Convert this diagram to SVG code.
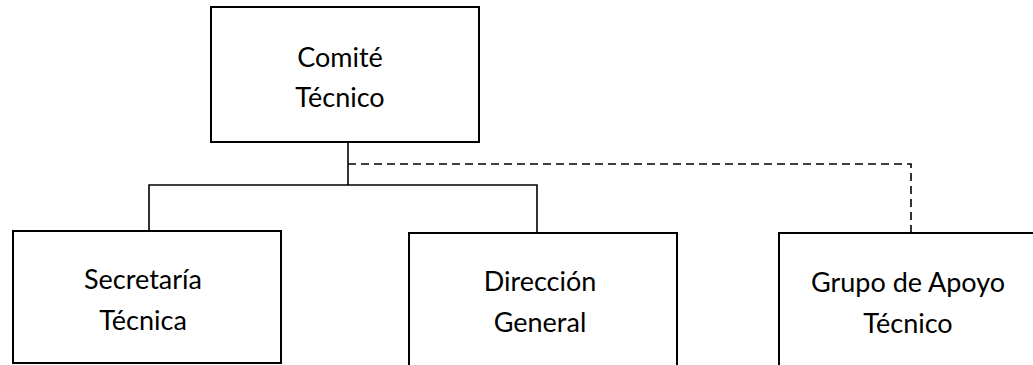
<svg xmlns="http://www.w3.org/2000/svg" width="1033" height="365" viewBox="0 0 1033 365">
<style>
.box{fill:#fff;stroke:#000;stroke-width:2}
.t{font-family:Lato,"Open Sans","Liberation Sans",sans-serif;font-size:27px;fill:#000;text-anchor:middle}
.ln{fill:none;stroke:#000;stroke-width:1.6}
.dash{fill:none;stroke:#000;stroke-width:1.6;stroke-dasharray:8 5}
</style>
<rect width="1033" height="365" fill="#fff"/>
<g id="connectors">
<polyline class="ln" points="348,142 348,185"/>
<polyline class="ln" points="149,231 149,185 537,185 537,233"/>
<polyline class="dash" points="348,164 911,164 911,233"/>
</g>
<g id="comite">
<rect class="box" x="211" y="7" width="268" height="135"/>
<text class="t" x="340" y="67">Comité</text>
<text class="t" x="340" y="107">Técnico</text>
</g>
<g id="secretaria">
<rect class="box" x="13" y="231" width="268" height="132"/>
<text class="t" x="143" y="289">Secretaría</text>
<text class="t" x="143" y="330">Técnica</text>
</g>
<g id="direccion">
<rect class="box" x="409" y="233" width="268" height="140"/>
<text class="t" x="540" y="291">Dirección</text>
<text class="t" x="540" y="332">General</text>
</g>
<g id="grupo">
<rect class="box" x="779" y="233" width="270" height="140"/>
<text class="t" x="908" y="292">Grupo de Apoyo</text>
<text class="t" x="908" y="333">Técnico</text>
</g>
</svg>
